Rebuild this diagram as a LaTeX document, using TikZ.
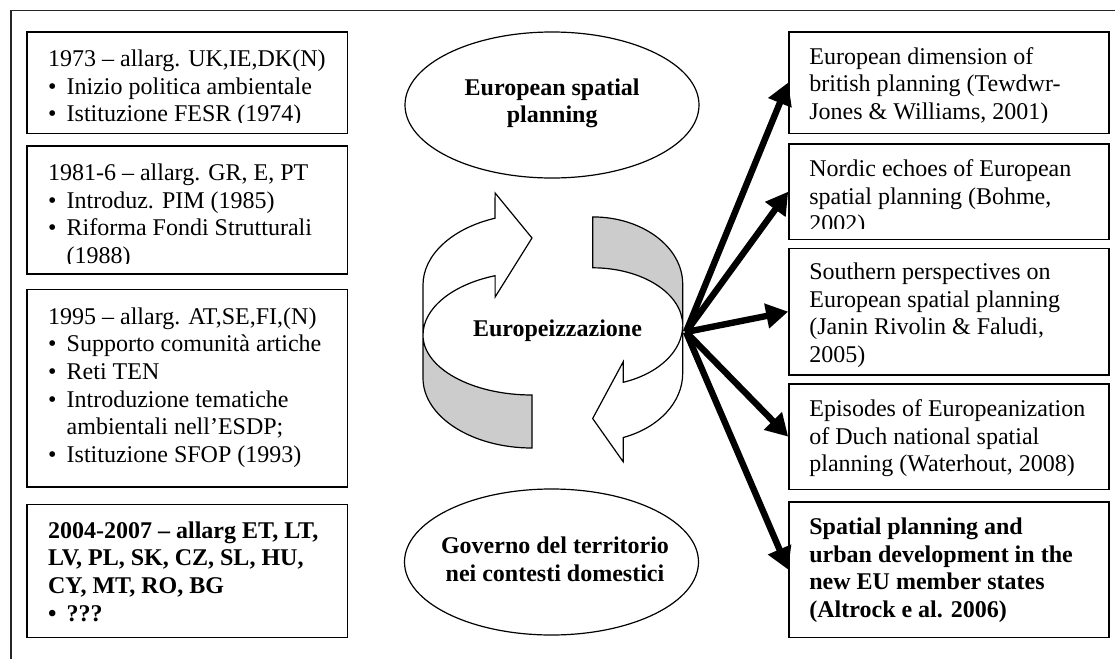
\documentclass[tikz,border=0pt]{standalone}
\usepackage{fontspec}
\setmainfont{Liberation Serif}
\usetikzlibrary{arrows.meta,fit,shapes.geometric}
\definecolor{bandgray}{RGB}{204,204,204}

% bullet with hanging indent
\newcommand\bul{\makebox[9.3pt][l]{\textbullet}}
% bottom inset of the visible text area of a panel
\newcommand\clipinset{10.5}
% framed text panel: name, x1, y1, x2, y2, text x offset, first baseline offset, text style, text
\newcommand\textpanel[9]{%
  \node[panel, fit={(#2,#3) (#4,#5)}] (#1) {};
  \begin{scope}
    \clip (#2,#3) rectangle (#4,#5-\clipinset);
    \node[paneltext, #8] (#1text) at (#2+#6,#3+#7-19.32) {#9};
  \end{scope}}
% one curved band arrow: grey back strip and white front strip with its head
\newcommand\bandshape{%
  \filldraw[band, fill=bandgray] (423,335)
    arc[start angle=180, end angle=90, x radius=109, y radius=60]
    -- (532,448)
    arc[start angle=90, end angle=180, x radius=109, y radius=70] -- cycle;
  \filldraw[band, fill=white] (423,285)
    arc[start angle=180, end angle=250.2, x radius=109, y radius=71]
    -- (495.1,193) -- (532,238) -- (495.1,297) -- (495.1,275.7)
    arc[start angle=250.2, end angle=180, x radius=109, y radius=63] -- cycle;}

\begin{document}
\begin{tikzpicture}[x=0.5pt,y=-0.5pt,
  frame/.style={draw=black!85, line width=0.75pt},
  panel/.style={draw, line width=0.8pt, inner sep=0pt},
  paneltext/.style={inner sep=0pt, align=left, anchor=north west,
    font=\fontsize{12}{13.8}\selectfont},
  boldtext/.style={font=\fontsize{12}{13.8}\selectfont\bfseries},
  oval/.style={ellipse, draw, line width=0.6pt, inner sep=0pt,
    minimum width=147pt, minimum height=73pt},
  ovaltext/.style={inner sep=0pt, align=center,
    font=\fontsize{12}{13.8}\selectfont\bfseries},
  band/.style={draw, line width=0.6pt, line join=miter},
  link/.style={line width=3.2pt, -{Triangle[length=11pt,width=12pt]}}]
\useasboundingbox (0,0) rectangle (1115,659);
\draw[frame] (11,659) -- (11,10.5) -- (1115,10.5);

% enlargement panels
\textpanel{l1}{26.7}{31.7}{347.3}{133.3}{21}{34.5}{}{\strut 1973 – allarg. UK,IE,DK(N)\\ \bul Inizio politica ambientale\\ \bul Istituzione FESR (1974)}
\textpanel{l2}{26.7}{145.7}{347.3}{274}{21}{34.5}{}{\strut 1981-6 – allarg. GR, E, PT\\ \bul Introduz. PIM (1985)\\ \bul Riforma Fondi Strutturali\\ \hspace*{9.3pt}(1988)}
\textpanel{l3}{26.7}{289.3}{347.3}{486.7}{21}{34.5}{}{\strut 1995 – allarg. AT,SE,FI,(N)\\ \bul Supporto comunità artiche\\ \bul Reti TEN\\ \bul Introduzione tematiche\\ \hspace*{9.3pt}ambientali nell’ESDP;\\ \bul Istituzione SFOP (1993)}
\textpanel{l4}{26.7}{504.3}{347.3}{637.3}{21}{33.5}{boldtext}{\strut 2004-2007 – allarg ET, LT,\\ LV, PL, SK, CZ, SL, HU,\\ CY, MT, RO, BG\\ \bul ???}

% literature panels
\textpanel{r1}{789}{31.7}{1109}{133.3}{20}{32}{}{\strut European dimension of\\ british planning (Tewdwr-\\ Jones \& Williams, 2001)}
\textpanel{r2}{789}{144}{1109}{239.3}{20}{32}{}{\strut Nordic echoes of European\\ spatial planning (Bohme,\\ 2002)}
\renewcommand\clipinset{6}
\textpanel{r3}{789}{248.3}{1109}{375}{20}{31}{}{\strut Southern perspectives on\\ European spatial planning\\ (Janin Rivolin \& Faludi,\\ 2005)}
\renewcommand\clipinset{10.5}
\textpanel{r4}{789}{384}{1109}{489.3}{20}{32}{}{\strut Episodes of Europeanization\\ of Duch national spatial\\ planning (Waterhout, 2008)}
\textpanel{r5}{789}{502}{1109}{637.3}{20}{32}{boldtext}{\strut Spatial planning and\\ urban development in the\\ new EU member states\\ (Altrock e al. 2006)}

% the two levels
\node[oval] (esp) at (552,105) {};
\node[ovaltext] (esptext) at (552.2,103.3) {\strut European spatial\\ planning\strut};
\node[oval] (gov) at (551.5,562) {};
\node[ovaltext] (govtext) at (555,561.8) {\strut Governo del territorio\\ nei contesti domestici\strut};

% circular process
\bandshape
\begin{scope}[shift={(1032.1,647)}, xscale=-0.826, yscale=-0.96]
  \bandshape
\end{scope}
\node[ovaltext, anchor=base] (euz) at (557.5,336.7) {Europeizzazione};

% links to the literature
\coordinate (hub) at (686,332);
\foreach \b in {r1,r2,r3,r4,r5}
  \draw[link] (hub) -- (\b.west);
\end{tikzpicture}
\end{document}
